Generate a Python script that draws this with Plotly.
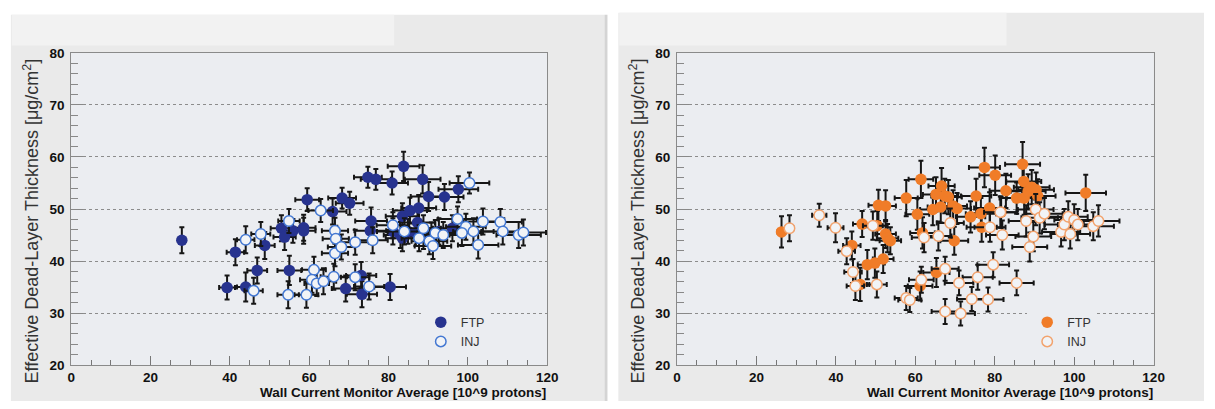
import plotly.graph_objects as go

W, H = 1215, 409

# ---------------- data (left panel, blue) ----------------
ftp_L_x = [27.9, 41.4, 39.3, 44.0, 46.9, 48.8, 53.0, 53.8, 55.9, 55.0, 58.6, 58.6, 59.5, 65.9,
           68.3, 70.2, 69.2, 73.3, 73.1, 74.8, 76.8, 80.9, 83.8, 88.6, 90.1, 94.1, 97.6, 80.4,
           75.6, 75.4, 83.5, 85.4, 87.6, 87.3, 81.1, 83.0, 84.9, 83.5, 86.9, 88.8, 90.8, 92.7, 96.1]
ftp_L_y = [44.0, 41.7, 34.9, 35.0, 38.2, 43.0, 46.3, 44.6, 45.8, 38.2, 46.4, 45.8, 51.8, 49.5,
           52.1, 51.1, 34.7, 33.6, 37.2, 56.1, 55.7, 55.0, 58.2, 55.7, 52.4, 52.3, 53.8, 35.0,
           47.7, 45.8, 48.6, 49.7, 50.2, 47.4, 45.7, 45.0, 45.7, 44.4, 45.4, 44.8, 45.0, 45.7, 46.3]
ftp_L_ex = [1.0, 2.2, 2.0, 2.2, 2.5, 2.5, 2.7, 2.8, 2.8, 3.0, 3.0, 3.0, 3.0, 3.5,
            3.5, 3.5, 3.5, 3.8, 3.8, 3.5, 3.8, 4.0, 4.0, 4.5, 4.5, 4.8, 5.0, 4.0,
            4.0, 4.0, 4.2, 4.3, 4.4, 4.4, 4.0, 4.2, 4.3, 4.2, 4.4, 4.5, 4.6, 4.7, 4.9]
ftp_L_ey = [2.5, 2.5, 2.3, 2.8, 2.5, 2.6, 2.5, 2.5, 2.3, 2.8, 2.5, 2.5, 2.2, 2.5,
            2.0, 2.2, 2.5, 2.5, 2.6, 2.0, 2.0, 2.2, 2.8, 2.7, 2.8, 2.5, 2.5, 2.5,
            2.6, 2.4, 2.5, 2.5, 2.5, 2.5, 2.5, 2.5, 2.4, 2.5, 2.5, 2.5, 2.4, 2.5, 2.5]

inj_L_x = [44.0, 47.8, 46.0, 54.7, 54.9, 62.9, 59.3, 61.2, 60.7, 61.9, 63.6, 66.5, 66.7, 66.5,
           68.1, 66.2, 71.6, 71.6, 75.1, 76.0, 81.1, 84.0, 87.7, 90.3, 91.2, 91.8, 93.8, 97.4,
           99.5, 98.5, 100.4, 101.4, 102.6, 103.8, 108.2, 108.8, 112.8, 114.0, 88.8]
inj_L_y = [44.1, 45.2, 34.3, 33.5, 47.7, 49.7, 33.5, 38.3, 36.4, 35.7, 36.1, 45.8, 44.3, 41.5,
           42.7, 37.0, 43.6, 36.9, 35.1, 44.0, 46.9, 45.7, 44.4, 43.8, 42.9, 45.4, 45.0, 48.1,
           46.6, 45.4, 55.0, 45.7, 43.1, 47.6, 47.5, 45.7, 45.0, 45.5, 46.3]
inj_L_ex = [2.2, 2.4, 2.3, 2.7, 2.7, 3.1, 3.0, 3.0, 3.0, 3.1, 3.2, 3.3, 3.3, 3.3,
            3.4, 3.3, 3.6, 3.6, 3.8, 3.8, 4.1, 4.2, 4.4, 4.5, 4.6, 4.6, 4.7, 4.9,
            5.0, 4.9, 5.0, 5.1, 5.1, 5.2, 5.4, 5.4, 5.6, 5.7, 4.4]
inj_L_ey = [2.6, 2.3, 2.5, 2.6, 2.3, 2.2, 2.5, 2.5, 2.5, 2.4, 2.5, 2.5, 2.5, 2.5,
            2.4, 2.5, 2.4, 2.5, 2.5, 2.5, 2.5, 2.5, 2.5, 2.5, 2.5, 2.5, 2.5, 2.4,
            2.5, 2.5, 2.0, 2.5, 2.6, 2.5, 2.5, 2.5, 2.5, 2.5, 2.5]

# ---------------- data (right panel, orange) ----------------
ftp_R_x = [26.3, 44.0, 46.6, 46.1, 47.9, 49.8, 51.9, 50.4, 50.7, 52.5, 52.5, 53.0, 53.7, 57.7,
           60.5, 61.4, 61.8, 61.2, 64.4, 65.2, 66.6, 66.4, 67.4, 68.3, 69.5, 70.5, 69.8, 65.3,
           73.9, 75.3, 76.5, 76.7, 77.4, 80.1, 78.7, 82.8, 85.5, 87.0, 87.3, 87.4, 88.4, 89.3,
           90.4, 90.8, 102.9, 81.6]
ftp_R_y = [45.6, 43.0, 47.1, 35.5, 39.3, 39.6, 40.4, 46.8, 50.7, 50.6, 45.2, 44.4, 43.9, 52.1,
           49.0, 55.7, 45.4, 35.2, 49.9, 52.8, 54.4, 50.4, 52.5, 52.3, 50.6, 50.1, 43.9, 37.8,
           48.5, 52.5, 49.1, 46.5, 58.0, 56.5, 50.2, 53.5, 52.1, 58.6, 55.3, 52.1, 53.4, 54.2,
           53.7, 52.5, 53.1, 49.4]
ftp_R_ex = [1.0, 2.2, 2.3, 2.3, 2.4, 2.5, 2.6, 2.5, 2.5, 2.6, 2.6, 2.7, 2.7, 2.9,
            3.0, 3.1, 3.1, 3.1, 3.2, 3.3, 3.3, 3.3, 3.4, 3.4, 3.5, 3.5, 3.5, 3.3,
            3.7, 3.8, 3.8, 3.8, 3.9, 4.0, 3.9, 4.1, 4.3, 4.4, 4.4, 4.4, 4.4, 4.5,
            4.5, 4.5, 5.1, 4.1]
ftp_R_ey = [3.0, 2.7, 2.5, 3.2, 2.8, 2.8, 2.7, 2.8, 3.0, 3.0, 2.7, 2.7, 2.6, 3.5,
            3.0, 3.6, 3.0, 2.8, 3.0, 3.3, 3.5, 3.0, 3.3, 3.3, 3.0, 3.0, 2.7, 2.8,
            3.0, 3.3, 3.0, 2.8, 3.8, 3.8, 3.0, 3.3, 3.0, 4.3, 3.5, 3.2, 3.3, 3.3,
            3.3, 3.2, 3.5, 3.0]

inj_R_x = [28.3, 35.8, 39.9, 42.7, 44.3, 44.9, 50.3, 49.3, 57.7, 58.6, 61.5, 62.2, 65.8, 67.5,
           68.8, 67.5, 71.4, 71.0, 74.2, 75.7, 78.3, 79.6, 78.8, 81.4, 81.9, 85.5, 87.9, 88.8,
           89.7, 90.3, 91.3, 92.5, 96.7, 97.5, 98.5, 99.0, 100.0, 100.9, 104.8, 106.1]
inj_R_y = [46.3, 48.8, 46.4, 41.9, 37.9, 35.2, 35.5, 46.8, 32.9, 32.5, 36.4, 44.5, 44.8, 38.5,
           47.3, 30.3, 29.9, 35.8, 32.7, 36.9, 32.6, 39.3, 46.5, 49.4, 45.0, 35.8, 47.7, 42.7,
           44.7, 49.9, 48.3, 49.1, 45.6, 47.0, 48.5, 45.2, 47.9, 47.0, 46.7, 47.7]
inj_R_ex = [1.1, 1.8, 2.0, 2.1, 2.2, 2.2, 2.5, 2.5, 2.9, 2.9, 3.1, 3.1, 3.3, 3.4,
            3.4, 3.4, 3.6, 3.6, 3.7, 3.8, 3.9, 4.0, 3.9, 4.1, 4.1, 4.3, 4.4, 4.4,
            4.5, 4.5, 4.6, 4.6, 4.8, 4.9, 4.9, 5.0, 5.0, 5.0, 5.2, 5.3]
inj_R_ey = [2.5, 2.2, 2.8, 2.5, 2.5, 2.7, 2.5, 2.7, 2.3, 2.3, 2.5, 2.8, 2.8, 2.3,
            2.8, 2.4, 2.3, 2.4, 2.3, 2.4, 2.3, 2.4, 2.8, 3.0, 2.8, 2.4, 3.0, 2.8,
            2.8, 3.0, 3.0, 3.0, 2.8, 3.0, 3.0, 2.8, 3.0, 3.0, 2.7, 3.0]

x_ticks = [0, 20, 40, 60, 80, 100, 120]
y_ticks = [20, 30, 40, 50, 60, 70, 80]
legend_names = ["FTP", "INJ"]
x_title = "Wall Current Monitor Average [10^9 protons]"
y_title = "Effective Dead-Layer Thickness [μg/cm<sup>2</sup>]"

# ---------------- styling ----------------
PANEL = "#eaeaea"
STRIP = "#f2f2f2"
PLOT_BG = "#ebedf1"
FONT = "Liberation Sans, Arial, sans-serif"

BLUE = "#27338f"
BLUE_OPEN = "#4478d2"
ORANGE = "#f07c28"
ORANGE_OPEN = "#f2a36e"


def px_x(p):
    return p / W


def px_y(p):
    return 1 - p / H


# plot areas in pixels
L_x0, L_x1 = 68, 550
R_x0, R_x1 = 681.5, 1164
Y_top, Y_bot = 47.7, 371.7

fig = go.Figure()


def err(arr, thick=2):
    return dict(type="data", array=arr, color="#161616", thickness=thick, width=2.5)


def add_pair(xf, yf, exf, eyf, xi, yi, exi, eyi, fillc, openc, xa, ya, leg):
    fig.add_trace(go.Scatter(
        x=xf, y=yf, mode="markers", name=legend_names[0],
        error_x=err(exf), error_y=err(eyf),
        marker=dict(symbol="circle", size=11.5, color=fillc, line=dict(width=0)),
        xaxis=xa, yaxis=ya, legend=leg))
    fig.add_trace(go.Scatter(
        x=xi, y=yi, mode="markers", name=legend_names[1],
        error_x=err(exi), error_y=err(eyi),
        marker=dict(symbol="circle", size=10.5, color="#f1f3f6", line=dict(width=1.5, color=openc)),
        xaxis=xa, yaxis=ya, legend=leg))


add_pair(ftp_L_x, ftp_L_y, ftp_L_ex, ftp_L_ey, inj_L_x, inj_L_y, inj_L_ex, inj_L_ey,
         BLUE, BLUE_OPEN, "x", "y", "legend")
add_pair(ftp_R_x, ftp_R_y, ftp_R_ex, ftp_R_ey, inj_R_x, inj_R_y, inj_R_ex, inj_R_ey,
         ORANGE, ORANGE_OPEN, "x2", "y2", "legend2")

tickfont = dict(family="Liberation Sans", size=13.5, color="#111111", weight=700)


def xaxis_cfg(x0, x1, anchor):
    return dict(domain=[px_x(x0), px_x(x1)], anchor=anchor, range=[0, 120],
                tickvals=x_ticks, ticktext=["<b>%d</b>" % v for v in x_ticks],
                ticks="inside", ticklen=9, tickcolor="#777777", tickwidth=1,
                minor=dict(dtick=5, tick0=0, ticks="inside", ticklen=5, tickcolor="#777777"),
                showgrid=False, zeroline=False, showline=True, linecolor="#8a8a8a",
                linewidth=1, mirror=True, tickfont=tickfont, ticklabelstandoff=0)


def yaxis_cfg(anchor):
    return dict(domain=[px_y(Y_bot), px_y(Y_top)], anchor=anchor, range=[20, 80],
                tickvals=y_ticks, ticktext=["<b>%d</b>" % v for v in y_ticks],
                ticks="inside", ticklen=12, tickcolor="#888888", tickwidth=1,
                minor=dict(dtick=2, tick0=20, ticks="inside", ticklen=7, tickcolor="#888888",
                           showgrid=False),
                showgrid=True, gridcolor="#8c8c8c", griddash="dot", gridwidth=1,
                zeroline=False, showline=True, linecolor="#8a8a8a", linewidth=1, mirror=True,
                tickfont=tickfont, ticklabelstandoff=3)


shapes = [
    dict(type="rect", xref="paper", yref="paper", x0=px_x(7), x1=px_x(608), y0=0, y1=px_y(8),
         fillcolor=PANEL, line=dict(width=0), layer="below"),
    dict(type="rect", xref="paper", yref="paper", x0=px_x(8), x1=px_x(395), y0=px_y(40),
         y1=px_y(8), fillcolor=STRIP, line=dict(width=0), layer="below"),
    dict(type="rect", xref="paper", yref="paper", x0=px_x(608), x1=px_x(611), y0=0, y1=px_y(8),
         fillcolor="#d4d4d4", line=dict(width=0), layer="below"),
    dict(type="rect", xref="paper", yref="paper", x0=px_x(622), x1=1, y0=0, y1=px_y(6),
         fillcolor=PANEL, line=dict(width=0), layer="below"),
    dict(type="rect", xref="paper", yref="paper", x0=px_x(623), x1=px_x(1015), y0=px_y(40),
         y1=px_y(6), fillcolor=STRIP, line=dict(width=0), layer="below"),
    dict(type="rect", xref="paper", yref="paper", x0=px_x(L_x0), x1=px_x(L_x1),
         y0=px_y(Y_bot), y1=px_y(Y_top), fillcolor=PLOT_BG, line=dict(width=0), layer="below"),
    dict(type="rect", xref="paper", yref="paper", x0=px_x(R_x0), x1=px_x(R_x1),
         y0=px_y(Y_bot), y1=px_y(Y_top), fillcolor=PLOT_BG, line=dict(width=0), layer="below"),
]

annotations = []
for (ax0, ax1) in [(L_x0, L_x1), (R_x0, R_x1)]:
    annotations.append(dict(
        text="<b>" + x_title + "</b>", xref="paper", yref="paper", x=px_x(ax1 + 1), y=px_y(400),
        xanchor="right", yanchor="middle", showarrow=False,
        font=dict(family="Liberation Sans", size=13.5, color="#111111")))
    annotations.append(dict(
        text=y_title, xref="paper", yref="paper", x=px_x(ax0 - 40), y=px_y(222),
        xanchor="center", yanchor="middle", textangle=-90, showarrow=False,
        font=dict(family=FONT, size=18, color="#333333")))

legend_common = dict(bgcolor=PLOT_BG, borderwidth=0, xanchor="left", yanchor="top",
                     font=dict(family=FONT, size=12.5, color="#333333"),
                     itemwidth=30, tracegroupgap=0)

fig.update_layout(
    width=W, height=H, margin=dict(l=0, r=0, t=0, b=0),
    paper_bgcolor="white", plot_bgcolor="rgba(0,0,0,0)",
    xaxis=xaxis_cfg(L_x0, L_x1, "y"), yaxis=yaxis_cfg("x"),
    xaxis2=xaxis_cfg(R_x0, R_x1, "y2"), yaxis2=yaxis_cfg("x2"),
    shapes=shapes, annotations=annotations,
    legend=dict(x=px_x(422), y=px_y(312), **legend_common),
    legend2=dict(x=px_x(1036), y=px_y(312), **legend_common),
    showlegend=True,
)

fig.write_html("out.html")
